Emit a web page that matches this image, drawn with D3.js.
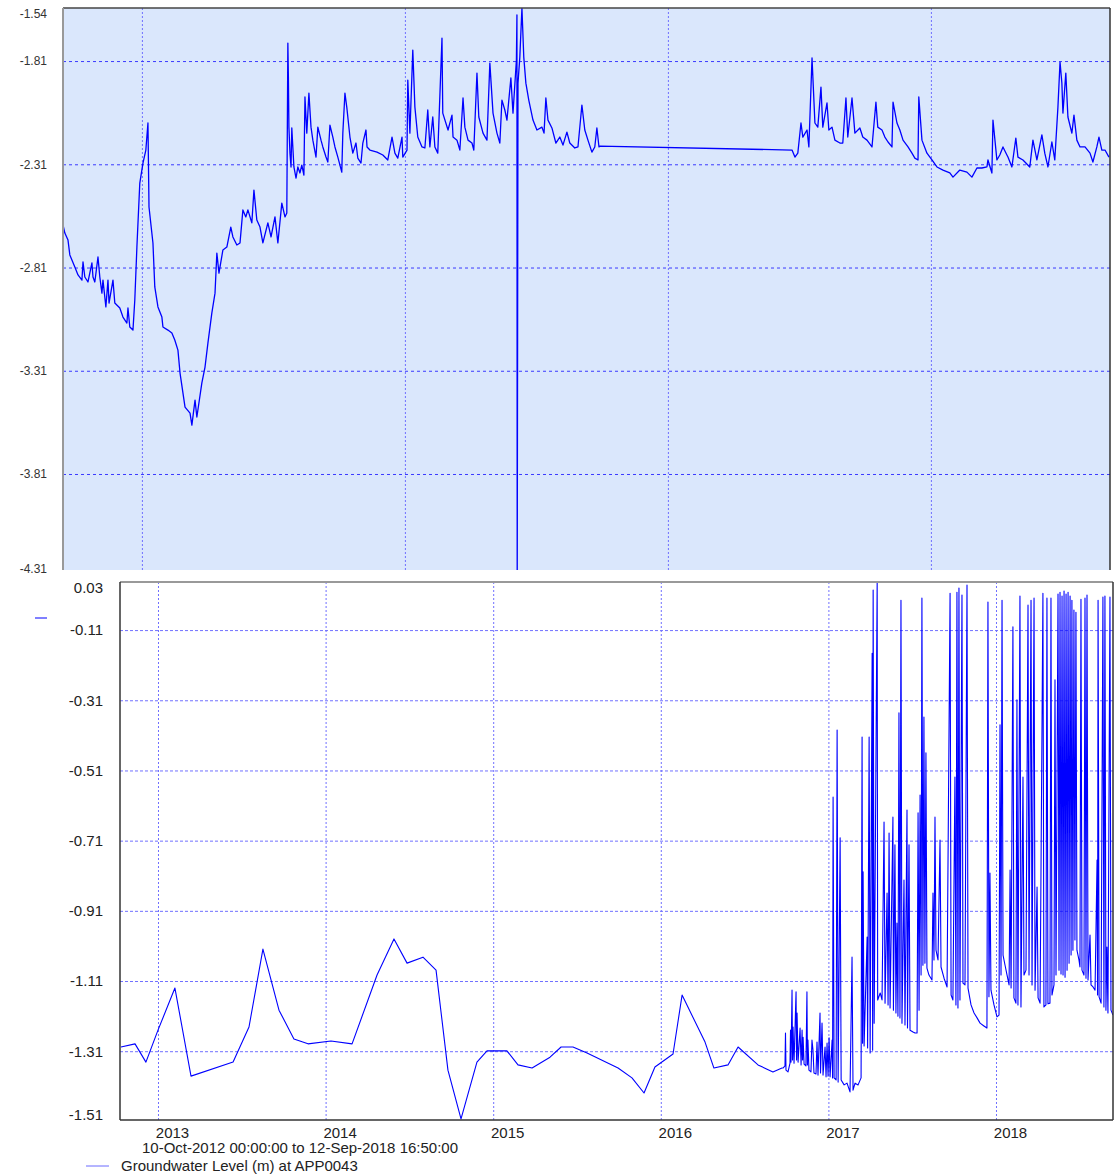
<!DOCTYPE html>
<html>
<head>
<meta charset="utf-8">
<script src="https://cdn.jsdelivr.net/npm/d3@7"></script>
<style>
    body { margin: 0; background: #fff; }
    svg { display: block; font-family: "Liberation Sans", Arial, sans-serif; }
</style>
</head>
<body>
<svg id="chart" width="1120" height="1175"></svg>
<script>
// Axis values and labels
const topTickValues = [-1.81, -2.31, -2.81, -3.31, -3.81];
const topEdgeLabels = ["-1.54", "-4.31"];
const topYears = [2013, 2014, 2015, 2016];
const bottomTickValues = [-0.11, -0.31, -0.51, -0.71, -0.91, -1.11, -1.31];
const bottomEdgeLabels = ["0.03", "-1.51"];
const bottomYears = [2013, 2014, 2015, 2016, 2017, 2018];
const dateRangeText = "10-Oct-2012 00:00:00 to 12-Sep-2018 16:50:00";
const seriesName = "Groundwater Level (m) at APP0043";

// Upper panel series: [decimal year, level (m)]
const topDrawdown = [
    [2012.700, -2.604], [2012.707, -2.643], [2012.719, -2.677], [2012.726, -2.749], [2012.745, -2.808],
    [2012.757, -2.846], [2012.772, -2.871], [2012.776, -2.783], [2012.783, -2.856], [2012.795, -2.880],
    [2012.810, -2.788], [2012.814, -2.856], [2012.821, -2.880], [2012.833, -2.759], [2012.840, -2.856],
    [2012.848, -2.934], [2012.852, -2.871], [2012.863, -3.001], [2012.871, -2.871], [2012.875, -2.982],
    [2012.890, -2.871], [2012.897, -2.982], [2012.916, -3.006], [2012.928, -3.050], [2012.943, -3.079],
    [2012.947, -3.006], [2012.954, -3.098], [2012.966, -3.113], [2012.973, -2.967], [2012.981, -2.711],
    [2012.992, -2.401], [2013.004, -2.304], [2013.015, -2.241], [2013.023, -2.110], [2013.027, -2.517],
    [2013.042, -2.691], [2013.049, -2.904], [2013.061, -3.001], [2013.076, -3.050], [2013.080, -3.098],
    [2013.099, -3.113], [2013.114, -3.127], [2013.125, -3.161], [2013.137, -3.210], [2013.145, -3.321],
    [2013.164, -3.486], [2013.183, -3.515], [2013.190, -3.573], [2013.202, -3.452], [2013.209, -3.534],
    [2013.228, -3.369], [2013.240, -3.292], [2013.251, -3.176], [2013.266, -3.030], [2013.278, -2.934],
    [2013.285, -2.740], [2013.293, -2.837], [2013.308, -2.725], [2013.323, -2.711], [2013.338, -2.614],
    [2013.346, -2.662], [2013.361, -2.701], [2013.373, -2.691], [2013.384, -2.531], [2013.395, -2.565],
    [2013.403, -2.531], [2013.418, -2.594], [2013.426, -2.435], [2013.437, -2.580], [2013.449, -2.614],
    [2013.460, -2.691], [2013.479, -2.594], [2013.491, -2.662], [2013.506, -2.565], [2013.517, -2.691],
    [2013.532, -2.498], [2013.544, -2.565], [2013.551, -2.546], [2013.555, -1.723], [2013.557, -1.887],
    [2013.559, -2.130], [2013.563, -2.256], [2013.567, -2.323], [2013.570, -2.134], [2013.578, -2.323],
    [2013.586, -2.377]
];

const topRecharge = [
    [2013.593, -2.323], [2013.601, -2.352], [2013.608, -2.314], [2013.616, -2.362], [2013.620, -1.984],
    [2013.627, -2.159], [2013.635, -1.965], [2013.643, -2.130], [2013.650, -2.193], [2013.662, -2.275],
    [2013.669, -2.130], [2013.681, -2.193], [2013.688, -2.226], [2013.700, -2.275], [2013.707, -2.299],
    [2013.715, -2.120], [2013.726, -2.178], [2013.734, -2.226], [2013.745, -2.275], [2013.760, -2.348],
    [2013.764, -2.159], [2013.772, -1.965], [2013.779, -2.033], [2013.791, -2.178], [2013.802, -2.256],
    [2013.814, -2.207], [2013.821, -2.280], [2013.833, -2.304], [2013.840, -2.207], [2013.852, -2.144],
    [2013.856, -2.226], [2013.867, -2.241], [2013.894, -2.251], [2013.916, -2.265], [2013.935, -2.289],
    [2013.951, -2.178], [2013.962, -2.256], [2013.973, -2.280], [2013.989, -2.178], [2013.992, -2.275],
    [2014.008, -2.241], [2014.011, -1.902], [2014.019, -2.159], [2014.030, -1.757], [2014.038, -2.033],
    [2014.049, -2.178], [2014.065, -2.226], [2014.076, -2.231], [2014.087, -2.047], [2014.095, -2.226],
    [2014.106, -2.081], [2014.114, -2.226], [2014.125, -2.256], [2014.141, -1.699], [2014.144, -2.062],
    [2014.164, -2.144], [2014.179, -2.072], [2014.183, -2.178], [2014.198, -2.193], [2014.209, -2.241],
    [2014.221, -1.989], [2014.228, -2.130], [2014.240, -2.193], [2014.255, -2.207], [2014.262, -2.241],
    [2014.274, -1.868], [2014.281, -2.081], [2014.297, -2.159], [2014.312, -2.193], [2014.323, -1.820],
    [2014.335, -2.062], [2014.350, -2.159], [2014.361, -2.207], [2014.369, -1.999], [2014.380, -2.047],
    [2014.388, -2.096], [2014.403, -1.892], [2014.411, -2.062], [2014.424, -1.805], [2014.426, -1.587],
    [2014.427, -4.400], [2014.430, -1.917], [2014.437, -1.791], [2014.445, -1.553], [2014.452, -1.791],
    [2014.460, -1.917], [2014.471, -1.999], [2014.487, -2.096], [2014.502, -2.144], [2014.521, -2.130],
    [2014.529, -2.159], [2014.536, -1.989], [2014.544, -2.096], [2014.559, -2.134], [2014.574, -2.207],
    [2014.589, -2.178], [2014.601, -2.217], [2014.616, -2.154], [2014.627, -2.207], [2014.646, -2.231],
    [2014.658, -2.226], [2014.673, -2.023], [2014.684, -2.144], [2014.696, -2.193], [2014.711, -2.251],
    [2014.722, -2.226], [2014.730, -2.134], [2014.738, -2.226]
];

const topLate = [
    [2014.741, -2.222], [2015.472, -2.241], [2015.483, -2.275], [2015.494, -2.256], [2015.506, -2.110],
    [2015.513, -2.178], [2015.529, -2.144], [2015.536, -2.226], [2015.548, -1.795], [2015.559, -2.110],
    [2015.570, -2.130], [2015.582, -1.936], [2015.589, -2.130], [2015.605, -2.013], [2015.612, -2.144],
    [2015.624, -2.130], [2015.635, -2.193], [2015.654, -2.207], [2015.665, -2.207], [2015.677, -1.989],
    [2015.684, -2.178], [2015.700, -1.989], [2015.711, -2.159], [2015.730, -2.134], [2015.741, -2.178],
    [2015.757, -2.193], [2015.776, -2.226], [2015.791, -2.009], [2015.798, -2.130], [2015.814, -2.144],
    [2015.825, -2.178], [2015.837, -2.202], [2015.852, -2.226], [2015.856, -2.009], [2015.871, -2.110],
    [2015.882, -2.144], [2015.894, -2.193], [2015.913, -2.226], [2015.928, -2.256], [2015.939, -2.280],
    [2015.951, -2.289], [2015.954, -1.984], [2015.966, -2.193], [2015.985, -2.256], [2016.004, -2.289],
    [2016.023, -2.323], [2016.046, -2.338], [2016.072, -2.352], [2016.084, -2.372], [2016.110, -2.338],
    [2016.137, -2.348], [2016.156, -2.372], [2016.175, -2.328], [2016.194, -2.328], [2016.213, -2.323],
    [2016.217, -2.289], [2016.232, -2.352], [2016.236, -2.096], [2016.251, -2.289], [2016.262, -2.265],
    [2016.274, -2.226], [2016.289, -2.265], [2016.293, -2.275], [2016.308, -2.323], [2016.323, -2.183],
    [2016.331, -2.275], [2016.350, -2.289], [2016.376, -2.323], [2016.388, -2.193], [2016.403, -2.289],
    [2016.422, -2.168], [2016.433, -2.256], [2016.445, -2.323], [2016.460, -2.202], [2016.471, -2.289],
    [2016.483, -2.033], [2016.491, -1.815], [2016.498, -1.917], [2016.502, -2.062], [2016.513, -1.868],
    [2016.521, -2.081], [2016.536, -2.159], [2016.544, -2.072], [2016.555, -2.193], [2016.567, -2.226],
    [2016.586, -2.226], [2016.605, -2.256], [2016.616, -2.299], [2016.631, -2.226], [2016.639, -2.178],
    [2016.650, -2.241], [2016.662, -2.241], [2016.677, -2.275]
];

// Lower panel series: manual dips, then logger readings
const bottomManual = [
    [2012.779, -1.298], [2012.863, -1.289], [2012.928, -1.341], [2013.000, -1.250], [2013.101, -1.130],
    [2013.197, -1.381], [2013.448, -1.341], [2013.543, -1.241], [2013.626, -1.019], [2013.722, -1.193],
    [2013.811, -1.275], [2013.895, -1.289], [2014.032, -1.281], [2014.158, -1.289], [2014.307, -1.093],
    [2014.408, -0.990], [2014.486, -1.059], [2014.581, -1.042], [2014.659, -1.079], [2014.730, -1.364],
    [2014.808, -1.503], [2014.903, -1.341], [2014.963, -1.309], [2015.082, -1.309], [2015.148, -1.349],
    [2015.232, -1.358], [2015.339, -1.327], [2015.405, -1.298], [2015.476, -1.298], [2015.560, -1.315],
    [2015.745, -1.358], [2015.828, -1.386], [2015.900, -1.429], [2015.965, -1.355], [2016.073, -1.318],
    [2016.127, -1.150], [2016.264, -1.284], [2016.317, -1.358], [2016.401, -1.349], [2016.461, -1.298],
    [2016.580, -1.349], [2016.669, -1.369], [2016.723, -1.358]
];

const bottomLogger2016 = [
    [2016.729, -1.358], [2016.741, -1.352], [2016.744, -1.258], [2016.747, -1.364], [2016.759, -1.369],
    [2016.771, -1.344], [2016.774, -1.250], [2016.777, -1.341], [2016.783, -1.136], [2016.786, -1.335],
    [2016.789, -1.241], [2016.795, -1.344], [2016.807, -1.141], [2016.810, -1.335], [2016.813, -1.201],
    [2016.819, -1.341], [2016.831, -1.244], [2016.837, -1.349], [2016.843, -1.250], [2016.846, -1.335],
    [2016.849, -1.270], [2016.855, -1.347], [2016.866, -1.352], [2016.872, -1.141], [2016.875, -1.349],
    [2016.878, -1.278], [2016.884, -1.364], [2016.896, -1.369], [2016.902, -1.278], [2016.908, -1.307],
    [2016.914, -1.372], [2016.926, -1.375], [2016.932, -1.284], [2016.938, -1.378], [2016.950, -1.201],
    [2016.953, -1.372], [2016.962, -1.230], [2016.968, -1.378], [2016.980, -1.298], [2016.986, -1.383],
    [2016.992, -1.287], [2016.998, -1.381]
];

const bottomLogger2017 = [
    [2017.004, -1.272], [2017.010, -1.383], [2017.022, -1.278], [2017.025, -1.386], [2017.028, -0.586],
    [2017.034, -1.386], [2017.046, -1.392], [2017.052, -0.395], [2017.058, -1.398], [2017.070, -0.702],
    [2017.076, -1.392], [2017.094, -1.406], [2017.111, -1.401], [2017.129, -1.426], [2017.141, -1.042],
    [2017.147, -1.421], [2017.159, -1.401], [2017.177, -1.406], [2017.195, -1.386], [2017.201, -0.415],
    [2017.204, -1.287], [2017.207, -0.799], [2017.213, -1.295], [2017.231, -0.985], [2017.234, -1.301],
    [2017.243, -0.415], [2017.249, -1.315], [2017.261, -0.176], [2017.264, -1.307], [2017.267, 0.004],
    [2017.273, -1.230], [2017.291, 0.027], [2017.294, -1.164], [2017.309, -1.144], [2017.320, -1.164],
    [2017.332, -0.657], [2017.338, -1.173], [2017.350, -0.859], [2017.356, -1.178], [2017.362, -0.688],
    [2017.368, -1.187], [2017.385, -0.643], [2017.388, -1.193], [2017.397, -0.722], [2017.403, -1.201],
    [2017.409, -0.945], [2017.415, -1.210], [2017.421, -0.346], [2017.427, -1.215], [2017.433, -0.025],
    [2017.439, -1.230], [2017.451, -0.822], [2017.457, -1.235], [2017.469, -0.623], [2017.472, -1.244],
    [2017.481, -0.722], [2017.487, -1.250], [2017.505, -1.255], [2017.517, -1.258], [2017.529, -1.258],
    [2017.535, -0.631], [2017.541, -1.193], [2017.547, -0.580], [2017.553, -1.093], [2017.558, -0.019],
    [2017.564, -1.065], [2017.570, -0.358], [2017.576, -1.059], [2017.582, -0.460], [2017.588, -1.073],
    [2017.600, -1.093], [2017.618, -1.107], [2017.624, -0.859], [2017.630, -1.050], [2017.636, -0.643],
    [2017.642, -1.022], [2017.654, -1.050], [2017.666, -0.708], [2017.672, -1.070], [2017.690, -1.102],
    [2017.708, -1.127], [2017.726, -0.005], [2017.732, -1.150], [2017.743, -1.164], [2017.755, -0.529],
    [2017.761, -1.178], [2017.767, -0.002], [2017.773, -1.187], [2017.779, 0.010], [2017.785, -1.164],
    [2017.797, -0.010], [2017.803, -1.116], [2017.815, -1.121], [2017.827, 0.018], [2017.833, -1.130],
    [2017.851, -1.178], [2017.869, -1.201], [2017.887, -1.215], [2017.905, -1.230], [2017.928, -1.238],
    [2017.946, -1.244], [2017.952, -0.030], [2017.958, -1.155], [2017.964, -0.802], [2017.970, -1.136],
    [2017.988, -1.178]
];

const bottomLogger2018 = [
    [2018.006, -1.212], [2018.018, -1.207], [2018.024, -0.380], [2018.030, -1.093], [2018.036, -0.025],
    [2018.042, -1.036], [2018.054, -1.065], [2018.066, -1.093], [2018.078, -1.121], [2018.084, -0.794],
    [2018.090, -1.130], [2018.101, -0.101], [2018.107, -1.158], [2018.119, -1.173], [2018.125, -0.309],
    [2018.131, -1.178], [2018.143, -0.013], [2018.149, -1.184], [2018.161, -0.529], [2018.167, -1.093],
    [2018.179, -1.079], [2018.191, -0.039], [2018.197, -1.093], [2018.209, -0.025], [2018.215, -1.121],
    [2018.227, -0.019], [2018.233, -1.136], [2018.245, -0.842], [2018.251, -1.158], [2018.263, -1.173],
    [2018.280, -0.005], [2018.286, -1.184], [2018.298, -1.178], [2018.304, -0.019], [2018.310, -1.175],
    [2018.322, -1.173], [2018.328, -0.019], [2018.334, -1.150], [2018.346, -1.121], [2018.352, -0.252],
    [2018.358, -1.093], [2018.370, -0.007], [2018.376, -1.079], [2018.382, -0.002], [2018.388, -1.090],
    [2018.394, -0.013], [2018.400, -1.093], [2018.406, 0.001], [2018.412, -1.099], [2018.418, -0.007],
    [2018.424, -1.079], [2018.430, -0.002], [2018.436, -1.059], [2018.442, -0.013], [2018.448, -1.036],
    [2018.453, -0.025], [2018.459, -1.022], [2018.465, -0.053], [2018.471, -0.993], [2018.477, -0.059],
    [2018.483, -1.022], [2018.495, -1.050], [2018.501, -1.070], [2018.507, -0.022], [2018.513, -1.079],
    [2018.525, -1.093], [2018.531, -0.019], [2018.537, -1.102], [2018.543, -0.010], [2018.549, -1.107],
    [2018.561, -0.979], [2018.567, -1.121], [2018.579, -1.127], [2018.591, -1.136], [2018.603, -0.765],
    [2018.606, -1.150], [2018.609, -0.025], [2018.615, -1.155], [2018.627, -1.173], [2018.638, -0.016],
    [2018.644, -1.184], [2018.650, -0.013], [2018.656, -1.193], [2018.662, -1.013], [2018.668, -1.201],
    [2018.680, -0.016], [2018.686, -1.193], [2018.698, -1.207]
];

const topSeries = topDrawdown.concat(topRecharge, topLate);
const bottomSeries = bottomManual.concat(bottomLogger2016, bottomLogger2017, bottomLogger2018);

const svg = d3.select("#chart");
const lineBlue = "#0000ff";
const fmt2 = d => d.toFixed(2);

// ---------- Upper panel ----------
const topBox = { left: 63, right: 1110, top: 8, bottom: 570 };

const xTop = d3.scaleLinear()
    .domain([2012.700, 2016.681])
    .range([topBox.left, topBox.right]);

const yTop = d3.scaleLinear()
    .domain([-4.275, -1.553])
    .range([topBox.bottom, topBox.top]);

svg.append("rect")
    .attr("x", topBox.left)
    .attr("y", topBox.top)
    .attr("width", topBox.right - topBox.left)
    .attr("height", topBox.bottom - topBox.top)
    .attr("fill", "#dae7fc");

svg.append("clipPath")
    .attr("id", "clip-top")
    .append("rect")
    .attr("x", topBox.left)
    .attr("y", topBox.top)
    .attr("width", topBox.right - topBox.left)
    .attr("height", topBox.bottom - topBox.top);

// vertical grid
const topXGrid = svg.append("g")
    .attr("transform", `translate(0,${topBox.bottom})`)
    .call(d3.axisBottom(xTop).tickValues(topYears).tickSize(-(topBox.bottom - topBox.top)).tickFormat(""));
topXGrid.select(".domain").remove();
topXGrid.selectAll("line")
    .attr("stroke", "#6f6fff")
    .attr("stroke-dasharray", "2,2");

// horizontal grid + labels
const topYAxis = svg.append("g")
    .attr("transform", `translate(${topBox.left},0)`)
    .call(d3.axisLeft(yTop).tickValues(topTickValues).tickFormat(fmt2)
        .tickSize(-(topBox.right - topBox.left)).tickPadding(16));
topYAxis.select(".domain").remove();
topYAxis.selectAll("line")
    .attr("stroke", "#3a3aff")
    .attr("stroke-dasharray", "3,3");
topYAxis.selectAll("text")
    .attr("font-size", 12)
    .attr("font-family", "Liberation Sans, Arial, sans-serif")
    .attr("fill", "#333");

svg.selectAll(".top-edge")
    .data(topEdgeLabels)
    .enter().append("text")
    .attr("class", "top-edge")
    .attr("x", topBox.left - 16)
    .attr("y", (d, i) => i === 0 ? yTop.range()[1] + 6 : yTop.range()[0] - 1)
    .attr("dy", "0.32em")
    .attr("text-anchor", "end")
    .attr("font-size", 12)
    .attr("fill", "#333")
    .text(d => d);

const topLine = d3.line()
    .x(d => xTop(d[0]))
    .y(d => yTop(d[1]));

svg.append("path")
    .datum(topSeries)
    .attr("clip-path", "url(#clip-top)")
    .attr("fill", "none")
    .attr("stroke", lineBlue)
    .attr("stroke-width", 1.3)
    .attr("stroke-linejoin", "round")
    .attr("d", topLine);

// frame
svg.append("line")
    .attr("x1", topBox.left).attr("x2", topBox.right)
    .attr("y1", topBox.top).attr("y2", topBox.top)
    .attr("stroke", "#444").attr("stroke-width", 1.5);
svg.append("line")
    .attr("x1", topBox.left).attr("x2", topBox.left)
    .attr("y1", topBox.top).attr("y2", topBox.bottom)
    .attr("stroke", "#999").attr("stroke-width", 2);
svg.append("line")
    .attr("x1", topBox.right).attr("x2", topBox.right)
    .attr("y1", topBox.top).attr("y2", topBox.bottom)
    .attr("stroke", "#333").attr("stroke-width", 1.5);

// ---------- Lower panel ----------
const botBox = { left: 120, right: 1113, top: 582, bottom: 1120 };

const xBot = d3.scaleLinear()
    .domain([2012.7733, 2018.6981])
    .range([botBox.left, botBox.right]);

const yBot = d3.scaleLinear()
    .domain([-1.506, 0.027])
    .range([botBox.bottom, botBox.top]);

svg.append("clipPath")
    .attr("id", "clip-bottom")
    .append("rect")
    .attr("x", botBox.left)
    .attr("y", botBox.top)
    .attr("width", botBox.right - botBox.left)
    .attr("height", botBox.bottom - botBox.top);

const botXAxis = svg.append("g")
    .attr("transform", `translate(0,${botBox.bottom})`)
    .call(d3.axisBottom(xBot).tickValues(bottomYears).tickSize(-(botBox.bottom - botBox.top))
        .tickPadding(7).tickFormat(d3.format("d")));
botXAxis.select(".domain").remove();
botXAxis.selectAll("line")
    .attr("stroke", "#7070ff")
    .attr("stroke-dasharray", "2,2");
botXAxis.selectAll("text")
    .attr("dx", 14)
    .attr("font-size", 15)
    .attr("font-family", "Liberation Sans, Arial, sans-serif")
    .attr("fill", "#222");

const botYAxis = svg.append("g")
    .attr("transform", `translate(${botBox.left},0)`)
    .call(d3.axisLeft(yBot).tickValues(bottomTickValues).tickFormat(fmt2)
        .tickSize(-(botBox.right - botBox.left)).tickPadding(17));
botYAxis.select(".domain").remove();
botYAxis.selectAll("line")
    .attr("stroke", "#7070ff")
    .attr("stroke-dasharray", "3,2");
botYAxis.selectAll("text")
    .attr("font-size", 15)
    .attr("font-family", "Liberation Sans, Arial, sans-serif")
    .attr("fill", "#222");

svg.selectAll(".bottom-edge")
    .data(bottomEdgeLabels)
    .enter().append("text")
    .attr("class", "bottom-edge")
    .attr("x", botBox.left - 17)
    .attr("y", (d, i) => i === 0 ? yBot.range()[1] + 6 : yBot.range()[0] - 5)
    .attr("dy", "0.32em")
    .attr("text-anchor", "end")
    .attr("font-size", 15)
    .attr("fill", "#222")
    .text(d => d);

const botLine = d3.line()
    .x(d => xBot(d[0]))
    .y(d => yBot(d[1]));

svg.append("path")
    .datum(bottomSeries)
    .attr("clip-path", "url(#clip-bottom)")
    .attr("fill", "none")
    .attr("stroke", lineBlue)
    .attr("stroke-width", 1.1)
    .attr("stroke-linejoin", "round")
    .attr("d", botLine);

// frame
svg.append("line")
    .attr("x1", botBox.left).attr("x2", botBox.right)
    .attr("y1", botBox.top).attr("y2", botBox.top)
    .attr("stroke", "#999").attr("stroke-width", 2);
svg.append("line")
    .attr("x1", botBox.left).attr("x2", botBox.left)
    .attr("y1", botBox.top).attr("y2", botBox.bottom)
    .attr("stroke", "#333").attr("stroke-width", 1.5);
svg.append("line")
    .attr("x1", botBox.right).attr("x2", botBox.right)
    .attr("y1", botBox.top).attr("y2", botBox.bottom)
    .attr("stroke", "#333").attr("stroke-width", 1.5);
svg.append("line")
    .attr("x1", botBox.left).attr("x2", botBox.right)
    .attr("y1", botBox.bottom).attr("y2", botBox.bottom)
    .attr("stroke", "#333").attr("stroke-width", 1.5);

// small series marker on the left
svg.append("line")
    .attr("x1", 35).attr("x2", 47)
    .attr("y1", 618).attr("y2", 618)
    .attr("stroke", lineBlue);

// date range caption
svg.append("text")
    .attr("x", 300)
    .attr("y", 1148)
    .attr("dy", "0.32em")
    .attr("text-anchor", "middle")
    .attr("font-size", 15)
    .attr("fill", "#222")
    .text(dateRangeText);

// legend
const legend = svg.append("g")
    .attr("transform", "translate(86,1166)");
legend.append("line")
    .attr("x1", 0).attr("x2", 23)
    .attr("stroke", "#6a6aff")
    .attr("stroke-width", 1);
legend.append("text")
    .attr("x", 35)
    .attr("dy", "0.32em")
    .attr("font-size", 15)
    .attr("fill", "#222")
    .text(seriesName);
</script>
</body>
</html>
